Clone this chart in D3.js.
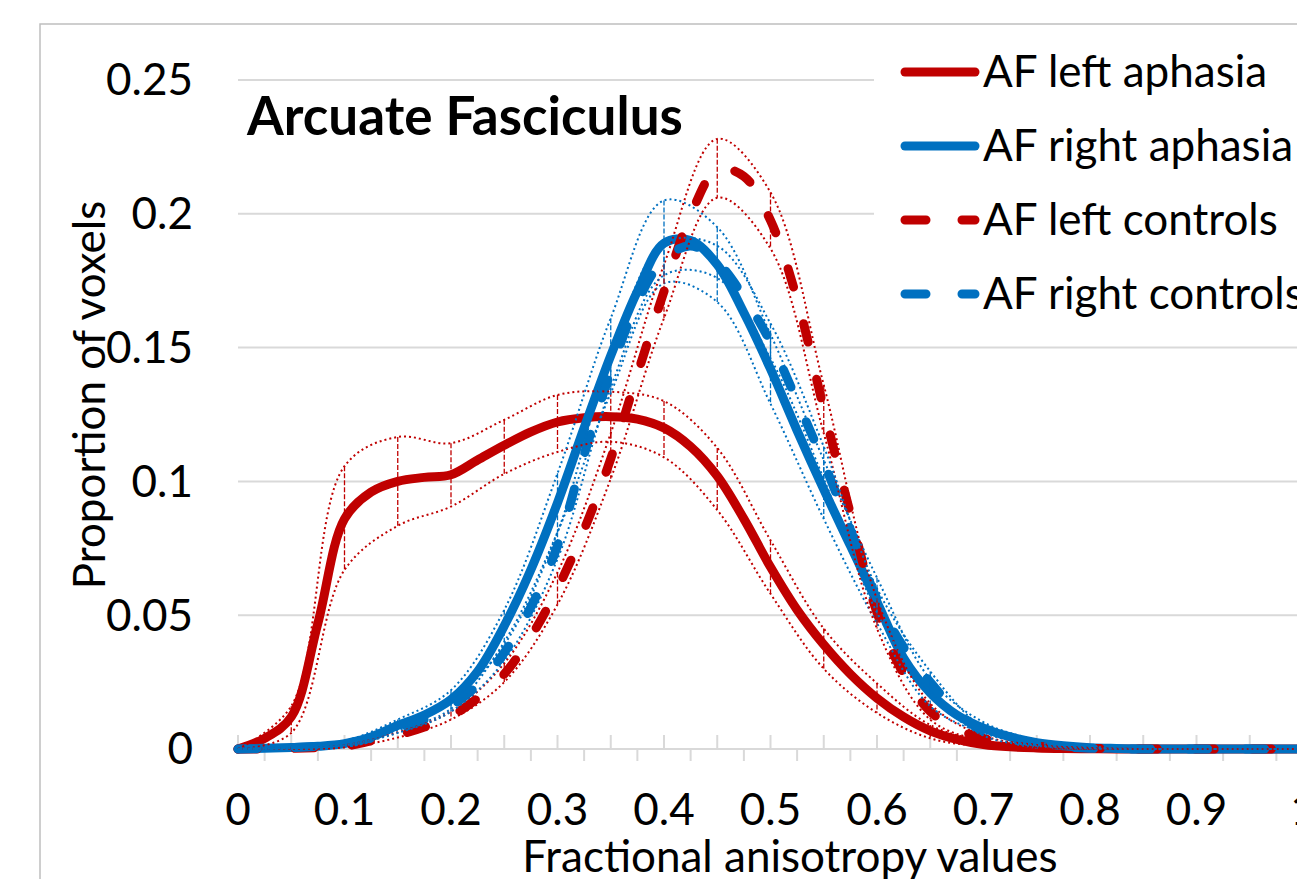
<!DOCTYPE html>
<html>
<head>
<meta charset="utf-8">
<script src="https://cdnjs.cloudflare.com/ajax/libs/d3/7.8.5/d3.min.js"></script>
<style>
  body { margin: 0; background: #fff; }
  svg text { font-family: Lato, "Open Sans", sans-serif; fill: #000; }
</style>
</head>
<body>
<div id="chart"></div>
<script>
//Data: mean curves sampled every 0.025 of FA
var faGrid = d3.range(0, 1.0001, 0.025);
var leftAphasia = [0, 0.004, 0.012, 0.047, 0.086, 0.096, 0.100, 0.1015, 0.1025, 0.108, 0.1135,
  0.1185, 0.1222, 0.1238, 0.1242, 0.1233, 0.1200, 0.113, 0.102, 0.086, 0.068, 0.052, 0.039,
  0.028, 0.019, 0.012, 0.0068, 0.0036, 0.0017, 0.0008, 0.0004, 0.0002, 0.0001, 0, 0, 0, 0, 0, 0, 0, 0];
var rightAphasia = [0, 0.0003, 0.0006, 0.001, 0.002, 0.0045, 0.0088, 0.0127, 0.0185, 0.029, 0.046,
  0.067, 0.092, 0.120, 0.147, 0.171, 0.189, 0.190, 0.181, 0.163, 0.142, 0.119, 0.097,
  0.076, 0.055, 0.034, 0.021, 0.0127, 0.0078, 0.0045, 0.0024, 0.0012, 0.0005, 0.0002, 0, 0, 0, 0, 0, 0, 0];
var leftControls = [0, 0, 0.0002, 0.0005, 0.001, 0.003, 0.0052, 0.0082, 0.0123, 0.019, 0.028,
  0.042, 0.060, 0.082, 0.1085, 0.140, 0.171, 0.1995, 0.2165, 0.214, 0.1975, 0.168, 0.127,
  0.088, 0.051, 0.028, 0.014, 0.0075, 0.004, 0.0022, 0.001, 0.0005, 0.0002, 0.0001, 0, 0, 0, 0, 0, 0, 0];
var rightControls = [0, 0.0002, 0.0005, 0.001, 0.002, 0.004, 0.0075, 0.011, 0.016, 0.024, 0.036,
  0.053, 0.076, 0.110, 0.141, 0.167, 0.183, 0.188, 0.182, 0.169, 0.152, 0.130, 0.107,
  0.082, 0.056, 0.038, 0.025, 0.014, 0.0065, 0.0035, 0.0018, 0.0008, 0.0003, 0, 0, 0, 0, 0, 0, 0, 0];

//Error band limits every 0.05
var bandGrid = d3.range(0, 1.0001, 0.05);
var leftAphasiaHi = [0, 0.016, 0.1057, 0.1166, 0.1143, 0.123, 0.1323, 0.1335, 0.130, 0.1125, 0.078,
  0.045, 0.0245, 0.009, 0.0028, 0.0008, 0.0003, 0, 0, 0, 0];
var leftAphasiaLo = [0, 0.006, 0.0669, 0.0834, 0.0906, 0.1028, 0.111, 0.1148, 0.109, 0.0893, 0.058,
  0.030, 0.0135, 0.004, 0.001, 0.0003, 0.0001, 0, 0, 0, 0];
var rightAphasiaHi = [0, 0.001, 0.003, 0.011, 0.022, 0.052, 0.103, 0.161, 0.205, 0.195, 0.155,
  0.108, 0.064, 0.026, 0.010, 0.0035, 0.001, 0, 0, 0, 0];
var rightAphasiaLo = [0, 0.0003, 0.0015, 0.007, 0.015, 0.040, 0.081, 0.133, 0.174, 0.167, 0.129,
  0.086, 0.047, 0.016, 0.006, 0.0015, 0.0003, 0, 0, 0, 0];
var leftControlsHi = [0, 0.0003, 0.0014, 0.0062, 0.014, 0.032, 0.066, 0.118, 0.181, 0.228, 0.208,
  0.136, 0.056, 0.017, 0.005, 0.0015, 0.0004, 0, 0, 0, 0];
var leftControlsLo = [0, 0.0001, 0.0006, 0.0043, 0.011, 0.025, 0.054, 0.101, 0.161, 0.206, 0.187,
  0.118, 0.045, 0.011, 0.003, 0.0006, 0.0001, 0, 0, 0, 0];
var rightControlsHi = [0, 0.0006, 0.0028, 0.009, 0.018, 0.039, 0.081, 0.147, 0.189, 0.188, 0.159,
  0.113, 0.060, 0.029, 0.008, 0.0025, 0.0005, 0, 0, 0, 0];
var rightControlsLo = [0, 0.0003, 0.0014, 0.006, 0.014, 0.033, 0.071, 0.135, 0.177, 0.176, 0.146,
  0.101, 0.051, 0.021, 0.005, 0.0012, 0.0002, 0, 0, 0, 0];

var seriesNames = ["AF left aphasia", "AF right aphasia", "AF left controls", "AF right controls"];
var xTickLabels = ["0", "0.1", "0.2", "0.3", "0.4", "0.5", "0.6", "0.7", "0.8", "0.9", "1"];
var yTickLabels = ["0", "0.05", "0.1", "0.15", "0.2", "0.25"];

var red = "#C00000", blue = "#0070C0";
var series = [
  { name: seriesNames[0], mean: leftAphasia, hi: leftAphasiaHi, lo: leftAphasiaLo, color: red, dash: null },
  { name: seriesNames[1], mean: rightAphasia, hi: rightAphasiaHi, lo: rightAphasiaLo, color: blue, dash: null },
  { name: seriesNames[2], mean: leftControls, hi: leftControlsHi, lo: leftControlsLo, color: red, dash: "19,38" },
  { name: seriesNames[3], mean: rightControls, hi: rightControlsHi, lo: rightControlsLo, color: blue, dash: "19,38" }
];

var width = 1297, height = 879;
var svg = d3.select("#chart").append("svg")
  .attr("width", width).attr("height", height);

var x = d3.scaleLinear().domain([0, 1]).range([238, 1303]);
var y = d3.scaleLinear().domain([0, 0.25]).range([749, 80]);

//Chart area frame
svg.append("path")
  .attr("d", "M40," + height + "V24H" + width)
  .attr("fill", "none").attr("stroke", "#BFBFBF").attr("stroke-width", 1.5);

//Gridlines
svg.append("g").selectAll("line")
  .data(yTickLabels.slice(1))
  .enter().append("line")
  .attr("x1", x(0)).attr("x2", width)
  .attr("y1", d => y(+d)).attr("y2", d => y(+d))
  .attr("stroke", "#D9D9D9").attr("stroke-width", 2);

//X axis line and alternating tick marks
svg.append("line")
  .attr("x1", x(0)).attr("x2", width).attr("y1", y(0)).attr("y2", y(0))
  .attr("stroke", "#D9D9D9").attr("stroke-width", 2);
svg.append("g").selectAll("line")
  .data(faGrid)
  .enter().append("line")
  .attr("x1", d => x(d)).attr("x2", d => x(d))
  .attr("y1", y(0))
  .attr("y2", (d, i) => i % 2 === 0 ? y(0) - 14 : y(0) + 12)
  .attr("stroke", "#D9D9D9").attr("stroke-width", 2);

//Tick labels
svg.append("g").selectAll("text")
  .data(yTickLabels)
  .enter().append("text")
  .attr("x", 193).attr("y", d => y(+d))
  .attr("dy", "0.35em")
  .attr("text-anchor", "end")
  .attr("font-size", 44)
  .text(d => d);
svg.append("g").selectAll("text")
  .data(xTickLabels)
  .enter().append("text")
  .attr("x", d => x(+d)).attr("y", 825)
  .attr("text-anchor", "middle")
  .attr("font-size", 44)
  .text(d => d);

//Axis titles
svg.append("text")
  .attr("x", 790).attr("y", 872)
  .attr("text-anchor", "middle")
  .attr("font-size", 44)
  .text("Fractional anisotropy values");
svg.append("text")
  .attr("transform", "translate(105,395) rotate(-90)")
  .attr("text-anchor", "middle")
  .attr("font-size", 44)
  .text("Proportion of voxels");

//Mean curves
var meanLine = d3.line()
  .x((d, i) => x(faGrid[i]))
  .y(d => y(d))
  .curve(d3.curveCatmullRom.alpha(0.5));
svg.append("g").selectAll("path")
  .data(series)
  .enter().append("path")
  .attr("d", d => meanLine(d.mean))
  .attr("fill", "none")
  .attr("stroke", d => d.color)
  .attr("stroke-width", 9)
  .attr("stroke-linecap", "round")
  .attr("stroke-linejoin", "round")
  .attr("stroke-dasharray", d => d.dash);

//Error bands (dotted) and error bars (dashed verticals)
var bandLine = d3.line()
  .x((d, i) => x(bandGrid[i]))
  .y(d => y(d))
  .curve(d3.curveCatmullRom.alpha(0.5));
series.forEach(function(s) {
  var g = svg.append("g");
  [s.hi, s.lo].forEach(function(arr) {
    g.append("path")
      .attr("d", bandLine(arr))
      .attr("fill", "none")
      .attr("stroke", s.color)
      .attr("stroke-width", 2)
      .attr("stroke-dasharray", "2,3");
  });
  g.selectAll("line")
    .data(bandGrid.filter((d, i) => s.hi[i] - s.lo[i] > 0.002))
    .enter().append("line")
    .attr("x1", d => x(d)).attr("x2", d => x(d))
    .attr("y1", d => y(s.hi[bandGrid.indexOf(d)]))
    .attr("y2", d => y(s.lo[bandGrid.indexOf(d)]))
    .attr("stroke", s.color)
    .attr("stroke-width", 1.3)
    .attr("stroke-dasharray", "5,2");
});

//Chart title
svg.append("text")
  .attr("x", 247).attr("y", 135)
  .attr("font-size", 53)
  .attr("font-weight", "bold")
  .text("Arcuate Fasciculus");

//Legend
var legend = svg.append("g");
legend.append("rect")
  .attr("x", 874).attr("y", 36).attr("width", width - 874).attr("height", 294)
  .attr("fill", "#fff");
var items = legend.selectAll("g")
  .data(series)
  .enter().append("g")
  .attr("transform", (d, i) => "translate(0," + (72 + i * 74) + ")");
items.append("line")
  .attr("x1", 905).attr("x2", 975).attr("y1", 0).attr("y2", 0)
  .attr("stroke", d => d.color)
  .attr("stroke-width", 9)
  .attr("stroke-linecap", "round")
  .attr("stroke-dasharray", d => d.dash ? "21,36" : null);
items.append("text")
  .attr("x", 983).attr("y", 15)
  .attr("font-size", 44)
  .text(d => d.name);
</script>
</body>
</html>
